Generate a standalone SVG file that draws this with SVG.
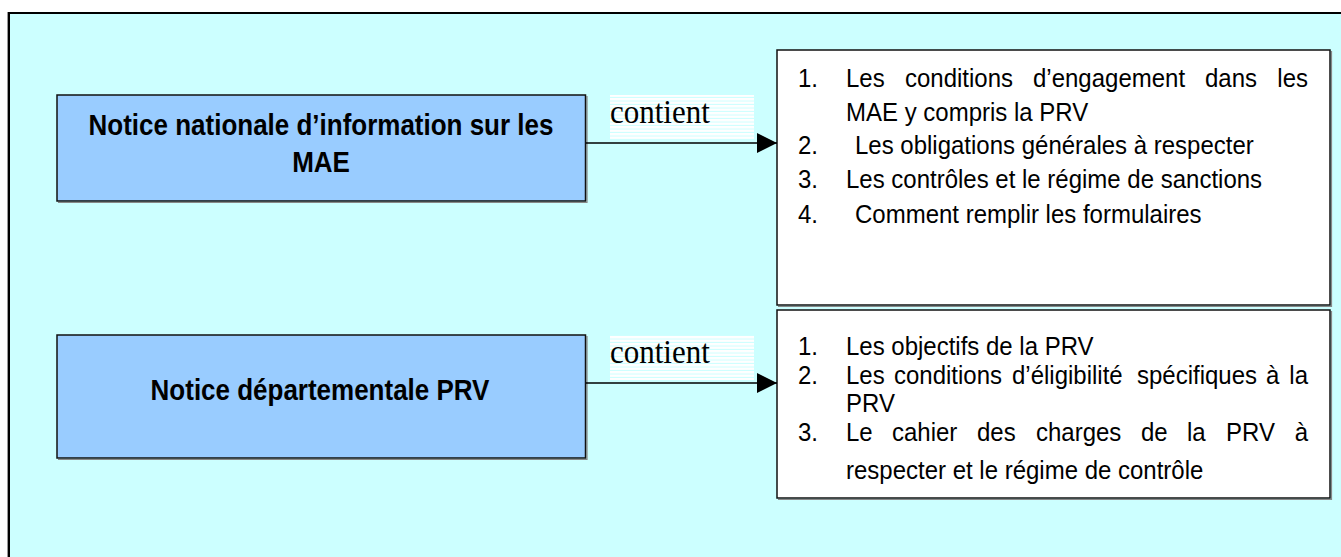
<svg xmlns="http://www.w3.org/2000/svg" width="1341" height="557" viewBox="0 0 1341 557">
<defs>
<style>
.title{font-family:"Liberation Sans",Arial,sans-serif;font-weight:bold;font-size:26px;fill:#000;text-anchor:middle}
.item{font-family:"Liberation Sans",Arial,sans-serif;font-size:24px;fill:#000}
.end{text-anchor:end}
.lbl{font-family:"Liberation Serif","Times New Roman",serif;font-size:31px;fill:#000}
.blue{fill:#99CCFF;stroke:#111;stroke-width:1.5}
.white{fill:#fff;stroke:#111;stroke-width:1.5}
.shadow{fill:none;stroke:#888;stroke-width:1.2}
.conn{stroke:#000;stroke-width:1.5;fill:none}
</style>
<pattern id="stripes" patternUnits="userSpaceOnUse" width="10" height="3.5">
<rect width="10" height="3.5" fill="#fff"/>
<rect y="2.5" width="10" height="1" fill="#CCFFFF"/>
</pattern>
<marker id="arr" markerUnits="userSpaceOnUse" markerWidth="20" markerHeight="20" refX="20" refY="10" orient="auto">
<path d="M0,0 L20,10 L0,20 Z" fill="#000"/>
</marker>
</defs>
<rect x="0" y="0" width="1341" height="557" fill="#fff"/>
<line x1="7.5" y1="12" x2="7.5" y2="557" stroke="#999" stroke-width="1"/>
<rect id="frame" x="9" y="13" width="1345" height="560" fill="#CCFFFF" stroke="#000" stroke-width="2"/>

<g id="node-nationale">
<polyline points="58,202.5 587,202.5 587,96" class="shadow"/>
<rect x="57" y="95" width="528.5" height="106" class="blue"/>
<text class="title" transform="translate(321,135) scale(1,1.14)" x="0" y="0">Notice nationale d’information sur les</text>
<text class="title" transform="translate(321,172) scale(1,1.14)" x="0" y="0">MAE</text>
</g>

<g id="node-departementale">
<polyline points="58,459.5 587,459.5 587,336" class="shadow"/>
<rect x="57" y="335" width="528.5" height="123" class="blue"/>
<text class="title" transform="translate(320,400) scale(1,1.14)" x="0" y="0">Notice départementale PRV</text>
</g>

<g id="node-contenu-nationale">
<polyline points="778,306.5 1331.5,306.5 1331.5,51" class="shadow"/>
<rect x="777" y="50" width="553" height="255" class="white"/>
<text class="item" transform="translate(0,87) scale(1,1.1)"><tspan x="798" y="0">1.</tspan><tspan x="846" y="0">Les</tspan><tspan x="905" y="0">conditions</tspan><tspan x="1033" y="0">d’engagement</tspan><tspan x="1205" y="0">dans</tspan></text>
<text class="item end" transform="translate(0,87) scale(1,1.1)" x="1308" y="0">les</text>
<text class="item" transform="translate(0,121) scale(1,1.1)" x="846" y="0">MAE y compris la PRV</text>
<text class="item" transform="translate(0,154) scale(1,1.1)"><tspan x="798" y="0">2.</tspan><tspan x="855" y="0">Les obligations générales à respecter</tspan></text>
<text class="item" transform="translate(0,188) scale(1,1.1)"><tspan x="798" y="0">3.</tspan><tspan x="846" y="0">Les contrôles et le régime de sanctions</tspan></text>
<text class="item" transform="translate(0,223) scale(1,1.1)"><tspan x="798" y="0">4.</tspan><tspan x="855" y="0">Comment remplir les formulaires</tspan></text>
</g>

<g id="node-contenu-departementale">
<polyline points="778,499.5 1331.5,499.5 1331.5,311" class="shadow"/>
<rect x="777" y="310" width="553" height="188" class="white"/>
<text class="item" transform="translate(0,355) scale(1,1.1)"><tspan x="798" y="0">1.</tspan><tspan x="846" y="0">Les objectifs de la PRV</tspan></text>
<text class="item" transform="translate(0,384) scale(1,1.1)"><tspan x="798" y="0">2.</tspan><tspan x="846" y="0">Les</tspan><tspan x="894" y="0">conditions</tspan><tspan x="1012" y="0">d’éligibilité</tspan><tspan x="1137" y="0">spécifiques</tspan><tspan x="1266" y="0">à</tspan></text>
<text class="item end" transform="translate(0,384) scale(1,1.1)" x="1308" y="0">la</text>
<text class="item" transform="translate(0,412) scale(1,1.1)" x="846" y="0">PRV</text>
<text class="item" transform="translate(0,441) scale(1,1.1)"><tspan x="798" y="0">3.</tspan><tspan x="846" y="0">Le</tspan><tspan x="892" y="0">cahier</tspan><tspan x="977" y="0">des</tspan><tspan x="1036" y="0">charges</tspan><tspan x="1141" y="0">de</tspan><tspan x="1187" y="0">la</tspan><tspan x="1226" y="0">PRV</tspan></text>
<text class="item end" transform="translate(0,441) scale(1,1.1)" x="1308" y="0">à</text>
<text class="item" transform="translate(0,479) scale(1,1.1)" x="846" y="0">respecter et le régime de contrôle</text>
</g>

<g id="connectors">
<rect x="610" y="95" width="144" height="45" fill="url(#stripes)"/>
<text class="lbl" transform="translate(610,123) scale(1,1.08)" x="0" y="0">contient</text>
<line x1="586" y1="143" x2="777" y2="143" class="conn" marker-end="url(#arr)"/>
<rect x="610" y="335" width="144" height="45" fill="url(#stripes)"/>
<text class="lbl" transform="translate(610,363) scale(1,1.08)" x="0" y="0">contient</text>
<line x1="586" y1="383" x2="777" y2="383" class="conn" marker-end="url(#arr)"/>
</g>
</svg>
